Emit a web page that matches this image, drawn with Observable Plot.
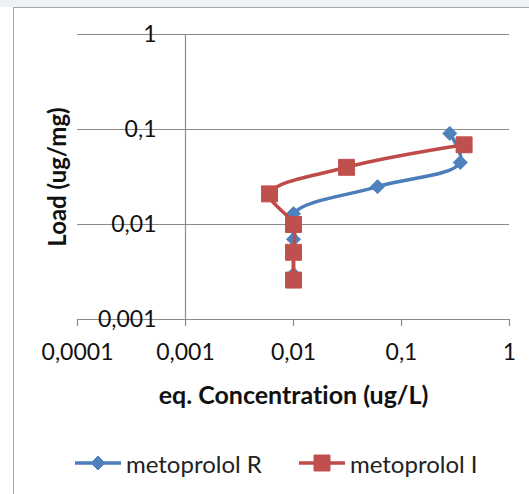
<!DOCTYPE html>
<html>
<head>
<meta charset="utf-8">
<script src="https://cdn.jsdelivr.net/npm/d3@7"></script>
<script src="https://cdn.jsdelivr.net/npm/@observablehq/plot@0.6"></script>
<style>
  html, body { margin: 0; padding: 0; background: #fff; }
  #wrap { position: relative; width: 529px; height: 494px; overflow: hidden; font-family: Lato, "Open Sans", sans-serif; font-variant-ligatures: none; }
  #wrap svg text { font-variant-ligatures: none; }
  #band { position: absolute; left: 0; top: 0; width: 529px; height: 7px; background: #eef2f7; }
  #frame { position: absolute; left: 13px; top: 7px; width: 530px; height: 500px; border-left: 1px solid #a6a6a6; border-top: 1px solid #a6a6a6; box-sizing: border-box; }
  #chart { position: absolute; left: 0; top: 0; }
  #legend { position: absolute; top: 448px; left: 0; width: 529px; height: 30px; }
  .item { position: absolute; top: 0; height: 30px; display: flex; align-items: center; font-size: 24px; color: #222; white-space: nowrap; }
  .item svg { display: block; margin-right: 3px; }
</style>
</head>
<body>
<div id="wrap">
  <div id="band"></div>
  <div id="frame"></div>
  <div id="chart"></div>
  <div id="legend"></div>
</div>
<script>
// ---- data ----
const seriesNames = ["metoprolol R", "metoprolol I"];
const seriesColors = ["#4a7ebb", "#be4b48"];
const markerColors = ["#4f81bd", "#c0504d"];
const rConc = [0.01, 0.01, 0.01, 0.06, 0.35, 0.28];
const rLoad = [0.003, 0.007, 0.013, 0.025, 0.045, 0.091];
const iConc = [0.01, 0.01, 0.01, 0.006, 0.031, 0.38];
const iLoad = [0.0026, 0.0051, 0.0100, 0.021, 0.040, 0.069];
const xTicks = [0.0001, 0.001, 0.01, 0.1, 1];
const xTickLabels = ["0,0001", "0,001", "0,01", "0,1", "1"];
const yTicks = [0.001, 0.01, 0.1, 1];
const yTickLabels = ["0,001", "0,01", "0,1", "1"];
const xTitle = "eq. Concentration (ug/L)";
const yTitle = "Load (ug/mg)";

const rData = rConc.map((c, i) => ({conc: c, load: rLoad[i]}));
const iData = iConc.map((c, i) => ({conc: c, load: iLoad[i]}));
const xTickData = xTicks.map((v, i) => ({v, label: xTickLabels[i]}));
const yTickData = yTicks.map((v, i) => ({v, label: yTickLabels[i]}));

const gridColor = "#8a8a8a";
const font = "Lato, 'Open Sans', sans-serif";

const chart = Plot.plot({
  width: 529,
  height: 420,
  marginLeft: 77,
  marginRight: 20,
  marginTop: 34,
  marginBottom: 101,
  style: {fontFamily: font, background: "transparent", overflow: "visible"},
  x: {type: "log", domain: [0.0001, 1]},
  y: {type: "log", domain: [0.001, 1], axis: null},
  marks: [
    Plot.ruleY(yTicks, {y: d => d, stroke: gridColor, strokeWidth: 1.2}),
    Plot.ruleX([0.001], {x: d => d, stroke: gridColor, strokeWidth: 1.2}),
    Plot.axisX({ticks: xTicks, tickSize: 7, tickFormat: () => "", label: null, stroke: gridColor, strokeWidth: 1.2, strokeOpacity: 1}),
    Plot.text(xTickData, {x: "v", text: "label", frameAnchor: "bottom", dy: 33, lineAnchor: "middle", fontSize: 23, fill: "#111"}),
    Plot.text(yTickData, {y: "v", text: "label", frameAnchor: "left", dx: 79, textAnchor: "end", lineAnchor: "middle", fontSize: 23, fill: "#111"}),
    Plot.text([xTitle], {text: d => d, frameAnchor: "bottom", dy: 76, textAnchor: "middle", lineAnchor: "middle", fontSize: 25, fontWeight: "bold", fill: "#111"}),
    Plot.text([yTitle], {text: d => d, frameAnchor: "left", dx: -19, rotate: -90, textAnchor: "middle", lineAnchor: "middle", fontSize: 24, fontWeight: "bold", fill: "#111"}),
    Plot.line(rData, {x: "conc", y: "load", curve: "catmull-rom", stroke: seriesColors[0], strokeWidth: 3.5}),
    Plot.dot(rData, {x: "conc", y: "load", symbol: "diamond2", r: 6.3, fill: markerColors[0], stroke: markerColors[0], strokeWidth: 1}),
    Plot.line(iData, {x: "conc", y: "load", curve: "catmull-rom", stroke: seriesColors[1], strokeWidth: 3.5}),
    Plot.dot(iData, {x: "conc", y: "load", symbol: "square", r: 9, fill: markerColors[1], stroke: markerColors[1], strokeWidth: 1})
  ]
});
document.getElementById("chart").appendChild(chart);

// ---- legend ----
const legend = d3.select("#legend");
const legendLeft = [75, 299];
seriesNames.forEach((name, i) => {
  const item = legend.append("div").attr("class", "item").style("left", legendLeft[i] + "px");
  const sw = item.append("svg").attr("width", 48).attr("height", 30);
  sw.append("line").attr("x1", 0).attr("x2", 46).attr("y1", 15).attr("y2", 15)
    .attr("stroke", seriesColors[i]).attr("stroke-width", 3.5);
  const sym = i === 0 ? d3.symbolDiamond2 : d3.symbolSquare;
  const size = i === 0 ? Math.PI * 6.3 * 6.3 : Math.PI * 9 * 9;
  sw.append("path").attr("transform", "translate(23,15)").attr("d", d3.symbol(sym, size)())
    .attr("fill", markerColors[i]).attr("stroke", markerColors[i]);
  item.append("span").text(name);
});
</script>
</body>
</html>
